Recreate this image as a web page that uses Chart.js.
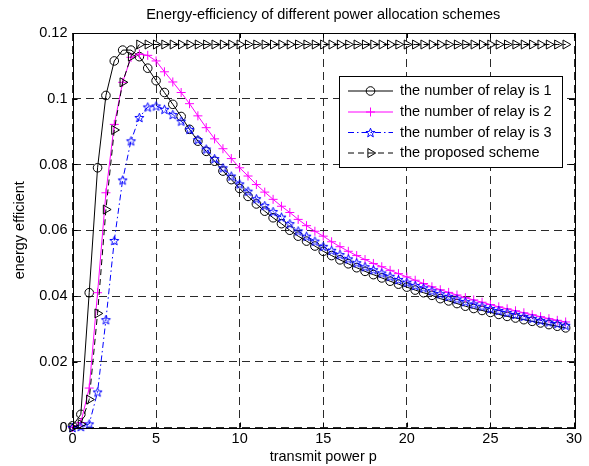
<!DOCTYPE html>
<html>
<head>
<meta charset="utf-8">
<script src="https://cdn.jsdelivr.net/npm/chart.js@4.4.1/dist/chart.umd.min.js"></script>
<style>
  html, body { margin: 0; padding: 0; background: #fff; }
  #wrap { width: 589px; height: 466px; }
</style>
</head>
<body>
<div id="wrap"><canvas id="eeChart" width="589" height="466"></canvas></div>
<script>
// transmit power p (x)
const power = [0, 0.5, 1, 1.5, 2, 2.5, 3, 3.5, 4, 4.5,
  5, 5.5, 6, 6.5, 7, 7.5, 8, 8.5, 9, 9.5,
  10, 10.5, 11, 11.5, 12, 12.5, 13, 13.5, 14, 14.5,
  15, 15.5, 16, 16.5, 17, 17.5, 18, 18.5, 19, 19.5,
  20, 20.5, 21, 21.5, 22, 22.5, 23, 23.5, 24, 24.5,
  25, 25.5, 26, 26.5, 27, 27.5, 28, 28.5, 29, 29.5];

// energy efficiency, one relay
const relay1 = [0.0005, 0.004, 0.041, 0.079, 0.101, 0.1115, 0.1148, 0.1148, 0.1128, 0.1093,
  0.1055, 0.1019, 0.0983, 0.0946, 0.0907, 0.0871, 0.0840, 0.0810, 0.0780, 0.0754,
  0.0727, 0.0703, 0.0680, 0.0658, 0.0638, 0.0620, 0.0600, 0.0582, 0.0567, 0.0552,
  0.0536, 0.0523, 0.0510, 0.0498, 0.0486, 0.0475, 0.0465, 0.0455, 0.0445, 0.0436,
  0.0427, 0.0418, 0.0410, 0.0402, 0.0392, 0.0385, 0.0377, 0.0369, 0.0362, 0.0356,
  0.0350, 0.0344, 0.0338, 0.0333, 0.0328, 0.0323, 0.0318, 0.0313, 0.0308, 0.0303];

// two relays
const relay2 = [0, 0.0015, 0.012, 0.041, 0.0714, 0.0922, 0.105, 0.1126, 0.1136, 0.1132,
  0.1115, 0.1082, 0.1051, 0.1019, 0.0985, 0.0948, 0.0912, 0.0878, 0.0848, 0.0818,
  0.0790, 0.0765, 0.0739, 0.0716, 0.0694, 0.0673, 0.0654, 0.0633, 0.0614, 0.0597,
  0.0582, 0.0565, 0.0550, 0.0536, 0.0523, 0.0511, 0.0499, 0.0489, 0.0478, 0.0468,
  0.0458, 0.0448, 0.0438, 0.0428, 0.0419, 0.0411, 0.0403, 0.0395, 0.0388, 0.0381,
  0.0374, 0.0367, 0.0361, 0.0355, 0.0349, 0.0343, 0.0337, 0.0331, 0.0326, 0.0321];

// three relays
const relay3 = [0, 0.0003, 0.0011, 0.0108, 0.0328, 0.0569, 0.0753, 0.0872, 0.0943, 0.0975,
  0.0978, 0.0968, 0.0952, 0.0932, 0.0907, 0.0876, 0.0847, 0.0818, 0.0790, 0.0765,
  0.0741, 0.0719, 0.0696, 0.0675, 0.0657, 0.0640, 0.0620, 0.0598, 0.0582, 0.0567,
  0.0551, 0.0539, 0.0526, 0.0513, 0.0501, 0.0489, 0.0480, 0.0470, 0.0460, 0.0450,
  0.0442, 0.0432, 0.0425, 0.0416, 0.0407, 0.0399, 0.0391, 0.0383, 0.0376, 0.0369,
  0.0362, 0.0356, 0.0350, 0.0344, 0.0338, 0.0332, 0.0326, 0.0321, 0.0316, 0.0311];

// proposed scheme
const proposed = [0, 0.001, 0.0085, 0.0347, 0.0663, 0.0905, 0.105, 0.1128, 0.1165, 0.1165,
  0.1165, 0.1165, 0.1165, 0.1165, 0.1165, 0.1165, 0.1165, 0.1165, 0.1165, 0.1165,
  0.1165, 0.1165, 0.1165, 0.1165, 0.1165, 0.1165, 0.1165, 0.1165, 0.1165, 0.1165,
  0.1165, 0.1165, 0.1165, 0.1165, 0.1165, 0.1165, 0.1165, 0.1165, 0.1165, 0.1165,
  0.1165, 0.1165, 0.1165, 0.1165, 0.1165, 0.1165, 0.1165, 0.1165, 0.1165, 0.1165,
  0.1165, 0.1165, 0.1165, 0.1165, 0.1165, 0.1165, 0.1165, 0.1165, 0.1165, 0.1165];

const seriesNames = ['the number of relay is 1', 'the number of relay is 2',
  'the number of relay is 3', 'the proposed scheme'];

const xTicks = [0, 5, 10, 15, 20, 25, 30];
const yTicks = [0, 0.02, 0.04, 0.06, 0.08, 0.1, 0.12];

const FONT = "'Liberation Sans', Arial, Helvetica, sans-serif";
const FSIZE = 14.5;

// pentagram marker, matlab 'p'
function makeStar(color, r) {
    const size = Math.ceil(r * 2 + 3);
    const c = document.createElement('canvas');
    c.width = size; c.height = size;
    const g = c.getContext('2d');
    const cx = size / 2, cy = size / 2 + 0.5;
    g.beginPath();
    for (let k = 0; k < 10; k++) {
        const a = -Math.PI / 2 + k * Math.PI / 5;
        const rr = k % 2 ? r * 0.42 : r;
        const px = cx + Math.cos(a) * rr, py = cy + Math.sin(a) * rr;
        if (k === 0) g.moveTo(px, py); else g.lineTo(px, py);
    }
    g.closePath();
    g.strokeStyle = color;
    g.lineWidth = 1;
    g.stroke();
    return c;
}
const starImg = makeStar('#0000ff', 4.8);

function pts(ys) {
    return power.map((p, i) => ({ x: p, y: ys[i] }));
}

// markers for the legend box
function drawMarker(ctx, ds, x, y) {
    ctx.save();
    ctx.strokeStyle = ds.borderColor;
    ctx.lineWidth = 1;
    ctx.setLineDash([]);
    const r = ds.pointRadius;
    ctx.beginPath();
    if (ds.pointStyle === 'circle') {
        ctx.arc(x, y, r, 0, Math.PI * 2);
        ctx.stroke();
    } else if (ds.pointStyle === 'cross') {
        ctx.moveTo(x - r, y); ctx.lineTo(x + r, y);
        ctx.moveTo(x, y - r); ctx.lineTo(x, y + r);
        ctx.stroke();
    } else if (ds.pointStyle === 'triangle') {
        ctx.moveTo(x + r, y);
        ctx.lineTo(x - r / 2, y - r * 0.866);
        ctx.lineTo(x - r / 2, y + r * 0.866);
        ctx.closePath();
        ctx.stroke();
    } else {
        ctx.drawImage(ds.pointStyle, x - ds.pointStyle.width / 2, y - ds.pointStyle.height / 2);
    }
    ctx.restore();
}

const matlabAxes = {
    id: 'matlabAxes',
    afterDraw(chart) {
        const ctx = chart.ctx;
        const a = chart.chartArea;
        const xs = chart.scales.x, ys = chart.scales.y;
        ctx.save();
        // box
        ctx.strokeStyle = '#000';
        ctx.lineWidth = 1;
        ctx.setLineDash([]);
        ctx.strokeRect(Math.round(a.left) + 0.5, Math.round(a.top) + 0.5,
            Math.round(a.right - a.left), Math.round(a.bottom - a.top));
        // inward ticks
        ctx.beginPath();
        xTicks.forEach(v => {
            const px = Math.round(xs.getPixelForValue(v)) + 0.5;
            ctx.moveTo(px, a.bottom); ctx.lineTo(px, a.bottom - 5);
            ctx.moveTo(px, a.top); ctx.lineTo(px, a.top + 5);
        });
        yTicks.forEach(v => {
            const py = Math.round(ys.getPixelForValue(v)) + 0.5;
            ctx.moveTo(a.left, py); ctx.lineTo(a.left + 5, py);
            ctx.moveTo(a.right, py); ctx.lineTo(a.right - 5, py);
        });
        ctx.stroke();

        // title
        ctx.fillStyle = '#000';
        ctx.font = FSIZE + 'px ' + FONT;
        ctx.textAlign = 'center';
        ctx.textBaseline = 'middle';
        ctx.fillText('Energy-efficiency of different power allocation schemes', (a.left + a.right) / 2, 14.5);

        // legend
        const bx = 339.5, by = 76.5, bw = 223, bh = 91;
        ctx.fillStyle = '#fff';
        ctx.fillRect(bx, by, bw, bh);
        ctx.strokeStyle = '#000';
        ctx.strokeRect(bx, by, bw, bh);
        const rows = [91, 112, 132.5, 153];
        chart.data.datasets.forEach((ds, i) => {
            const y = rows[i];
            ctx.save();
            ctx.strokeStyle = ds.borderColor;
            ctx.lineWidth = 1;
            ctx.setLineDash(ds.borderDash || []);
            ctx.beginPath();
            ctx.moveTo(348, y); ctx.lineTo(393, y);
            ctx.stroke();
            ctx.restore();
            drawMarker(ctx, ds, 370.5, y);
            ctx.fillStyle = '#000';
            ctx.font = FSIZE + 'px ' + FONT;
            ctx.textAlign = 'left';
            ctx.textBaseline = 'middle';
            ctx.fillText(ds.label, 400, y);
        });
        ctx.restore();
    }
};

const gridColor = '#2a2a2a';
const gridDash = [8, 5];

new Chart(document.getElementById('eeChart').getContext('2d'), {
    type: 'line',
    data: {
        datasets: [{
            label: seriesNames[0],
            data: pts(relay1),
            borderColor: '#000000',
            borderWidth: 1,
            pointStyle: 'circle',
            pointRadius: 4.3,
            pointBorderWidth: 1,
            pointBackgroundColor: 'rgba(0,0,0,0)',
            pointBorderColor: '#000000',
            order: 4
        }, {
            label: seriesNames[1],
            data: pts(relay2),
            borderColor: '#ff00ff',
            borderWidth: 1,
            pointStyle: 'cross',
            pointRadius: 4.5,
            pointBorderWidth: 1,
            pointBorderColor: '#ff00ff',
            order: 3
        }, {
            label: seriesNames[2],
            data: pts(relay3),
            borderColor: '#0000ff',
            borderWidth: 1,
            borderDash: [6, 3, 1.5, 3],
            pointStyle: starImg,
            pointRadius: 4.5,
            order: 2
        }, {
            label: seriesNames[3],
            data: pts(proposed),
            borderColor: '#000000',
            borderWidth: 1,
            borderDash: [6, 4],
            pointStyle: 'triangle',
            pointRotation: 90,
            pointRadius: 5.2,
            pointBorderWidth: 1,
            pointBackgroundColor: 'rgba(0,0,0,0)',
            pointBorderColor: '#000000',
            order: 1
        }]
    },
    options: {
        responsive: false,
        animation: false,
        clip: false,
        layout: { padding: { top: 33, right: 15, left: 0, bottom: 0 } },
        plugins: {
            legend: { display: false },
            title: { display: false },
            tooltip: { enabled: false }
        },
        elements: { line: { tension: 0 } },
        scales: {
            x: {
                type: 'linear',
                min: 0,
                max: 30,
                afterBuildTicks: s => { s.ticks = xTicks.map(v => ({ value: v })); },
                afterFit: s => { s.height = 38.5; },
                ticks: { color: '#000', font: { size: FSIZE, family: FONT }, padding: 3, autoSkip: false, maxRotation: 0 },
                grid: { color: gridColor, lineWidth: 1, drawTicks: false },
                border: { display: false, dash: gridDash },
                title: {
                    display: true,
                    text: 'transmit power p',
                    color: '#000',
                    font: { size: FSIZE, family: FONT },
                    padding: { top: 0, bottom: 0 }
                }
            },
            y: {
                type: 'linear',
                min: 0,
                max: 0.12,
                afterBuildTicks: s => { s.ticks = yTicks.map(v => ({ value: v })); },
                afterFit: s => { s.width = 72.5; },
                ticks: {
                    color: '#000',
                    font: { size: FSIZE, family: FONT },
                    padding: 5,
                    autoSkip: false,
                    callback: v => String(parseFloat(v.toFixed(2)))
                },
                grid: { color: gridColor, lineWidth: 1, drawTicks: false },
                border: { display: false, dash: gridDash },
                title: {
                    display: true,
                    text: 'energy efficient',
                    color: '#000',
                    font: { size: FSIZE, family: FONT },
                    padding: { top: 11, bottom: 0 }
                }
            }
        }
    },
    plugins: [matlabAxes]
});
</script>
</body>
</html>
